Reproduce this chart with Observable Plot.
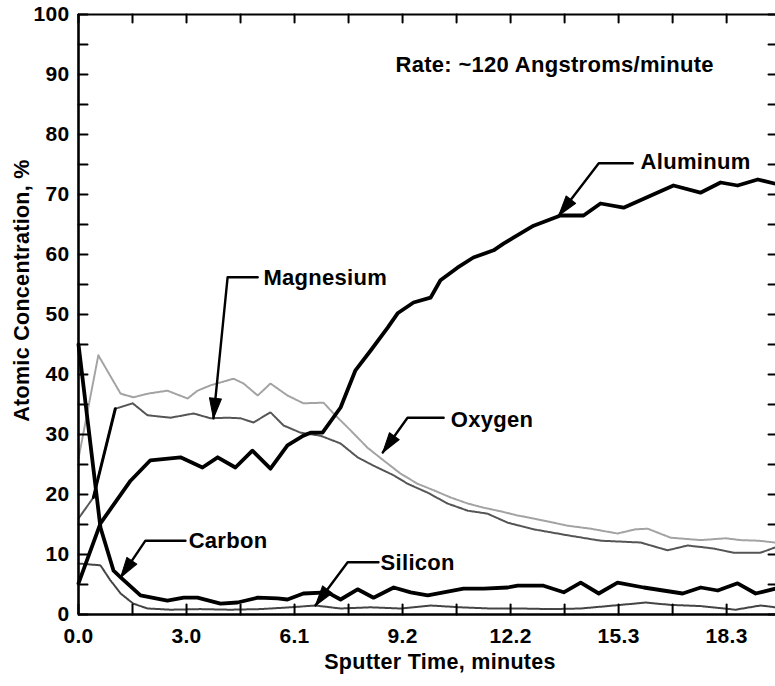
<!DOCTYPE html>
<html><head><meta charset="utf-8">
<script src="https://cdn.jsdelivr.net/npm/d3@7"></script>
<script src="https://cdn.jsdelivr.net/npm/@observablehq/plot@0.6"></script>
<style>
html,body{margin:0;padding:0;background:#fff;}
#chart svg{display:block;}
#chart svg text{letter-spacing:0.3px;}
</style></head><body><div id="chart"></div>
<script>
// ---- data ----
const aluminumTime  = [0,0.62,1.47,2.03,2.88,3.50,3.93,4.43,4.91,5.42,5.90,6.35,6.55,6.89,7.40,7.82,8.25,8.73,9.01,9.46,9.94,10.22,10.70,11.15,11.72,12.00,12.28,12.85,13.61,14.26,14.74,15.39,16.15,16.80,17.56,18.13,18.61,19.18,19.68];
const aluminumValue = [5.2,15.2,22.3,25.7,26.2,24.5,26.2,24.5,27.3,24.3,28.2,29.8,30.3,30.3,34.5,40.7,44,47.8,50.2,52,52.8,55.7,57.8,59.5,60.7,61.8,62.8,64.8,66.5,66.5,68.5,67.8,69.8,71.5,70.3,72,71.5,72.5,71.8];

const carbonTime  = [0,0.62,0.99,1.19,1.75,2.51,2.97,3.36,4.01,4.49,5.06,5.62,5.90,6.35,7.03,7.40,7.88,8.33,8.90,9.38,9.86,10.31,10.87,11.44,12.12,12.40,13.13,13.70,14.18,14.69,15.22,15.96,17.06,17.57,18.05,18.61,19.12,19.68];
const carbonValue = [45,14.5,7.3,6.2,3.2,2.3,2.8,2.8,1.8,2.0,2.8,2.7,2.5,3.5,3.7,2.5,4.2,2.8,4.5,3.7,3.2,3.7,4.3,4.3,4.5,4.8,4.8,3.7,5.3,3.5,5.3,4.5,3.5,4.5,4.0,5.2,3.5,4.3];

const oxygenTime  = [0,0.56,1.19,1.55,1.95,2.51,3.08,3.36,3.73,4.38,4.66,5.06,5.42,5.90,6.35,6.92,7.20,7.68,8.16,8.61,9.09,9.57,10.03,10.51,10.99,11.44,11.92,12.40,12.85,13.81,14.46,15.22,15.73,16.07,16.72,17.57,18.27,18.70,19.18,19.68];
const oxygenValue = [26,43.2,36.8,36.2,36.8,37.3,36.0,37.3,38.2,39.3,38.5,36.5,38.5,36.5,35.2,35.3,33.5,30.7,27.8,25.7,23.5,21.8,20.7,19.5,18.5,17.8,17.2,16.5,16.0,14.8,14.3,13.5,14.2,14.3,12.8,12.4,12.7,12.4,12.3,12.0];

const magnesiumTime  = [0,0.42,1.04,1.53,1.95,2.60,3.25,3.73,4.21,4.58,4.94,5.42,5.79,6.27,6.83,7.40,7.88,8.33,8.90,9.29,9.86,10.42,10.99,11.55,12.12,12.85,13.81,14.74,15.87,16.63,17.20,17.93,18.50,19.26,19.68];
const magnesiumValue = [16,19.5,34.3,35.2,33.2,32.8,33.5,32.7,32.8,32.7,32.0,33.7,31.5,30.3,29.8,28.5,26.2,24.8,23.2,21.8,20.3,18.5,17.3,16.8,15.3,14.2,13.2,12.3,12.0,10.7,11.5,11.0,10.3,10.3,11.2];

const siliconTime  = [0,0.62,0.90,1.19,1.55,1.95,2.60,3.45,4.29,5.14,5.99,6.69,7.40,8.25,9.09,9.94,10.79,11.64,12.48,13.33,14.18,15.31,16.01,16.72,17.57,18.55,19.26,19.68];
const siliconValue = [8.5,8.2,5.7,3.5,1.8,1.0,0.8,0.9,0.8,0.9,1.2,1.5,1.0,1.2,1.0,1.5,1.2,1.0,1.0,0.9,1.0,1.6,2.0,1.6,1.4,0.8,1.5,1.2];

// axis ticks
const xTickValues  = [0,1.525,3.05,4.575,6.1,7.625,9.15,10.675,12.2,13.725,15.25,16.775,18.3];
const xLabelValues = [0,3.05,6.1,9.15,12.2,15.25,18.3];
const xLabelTexts  = ["0.0","3.0","6.1","9.2","12.2","15.3","18.3"];
const yTickValues  = [0,5,10,15,20,25,30,35,40,45,50,55,60,65,70,75,80,85,90,95,100];
const yLabelValues = [0,10,20,30,40,50,60,70,80,90,100];

// annotations
const annLabel   = ["Magnesium","Aluminum","Oxygen","Carbon","Silicon"];
const annTextT   = [5.22,15.87,10.51,3.11,8.53];
const annTextV   = [56.1,75.4,32.4,12.25,8.6];
const annLineEndT= [5.06,15.65,10.31,3.02,8.47];
const annElbowT  = [4.21,14.69,9.29,1.89,7.60];
const annElbowV  = [56.2,75.2,32.8,12.3,8.7];
const annTipT    = [3.81,13.56,8.59,1.19,6.69];
const annTipV    = [32.7,66.5,27.0,6.2,1.5];

const rateText = "Rate: ~120 Angstroms/minute";
const rateT = 8.95, rateV = 91.6;

const xTitle = "Sputter Time, minutes";
const yTitle = "Atomic Concentration, %";

// ---- build tables ----
function rows(name, ts, vs){ return ts.map((t,i)=>({series:name, t, v:vs[i]})); }
const aluminum  = rows("Aluminum", aluminumTime, aluminumValue);
const carbon    = rows("Carbon", carbonTime, carbonValue);
const oxygen    = rows("Oxygen", oxygenTime, oxygenValue);
const magnesium = rows("Magnesium", magnesiumTime, magnesiumValue);
const silicon   = rows("Silicon", siliconTime, siliconValue);
const magnesiumSteep = magnesium.filter(d => d.t >= 0.42 && d.t <= 1.04);

const W = 775, H = 686, mL = 78, mR = 0, mT = 14, mB = 72;
const xMax = 19.68;
const xs = Plot.scale({x:{domain:[0,xMax], range:[mL, W-mR]}});
const ys = Plot.scale({y:{domain:[0,100], range:[H-mB, mT]}});

const anns = annLabel.map((label,i)=>{
  const dx = xs.apply(annTipT[i]) - xs.apply(annElbowT[i]);
  const dy = ys.apply(annTipV[i]) - ys.apply(annElbowV[i]);
  return {label, tt:annTextT[i], tv:annTextV[i], et:annElbowT[i], ev:annElbowV[i],
          lt:annLineEndT[i], pt:annTipT[i], pv:annTipV[i],
          angle: Math.atan2(dx, -dy) * 180 / Math.PI};
});
const leaders = anns.flatMap(a => [
  {label:a.label, t:a.lt, v:a.ev},
  {label:a.label, t:a.et, v:a.ev},
  {label:a.label, t:a.pt, v:a.pv}
]);

const lineShape = {draw(ctx, l){ ctx.moveTo(0,0); ctx.lineTo(0,-l); }};
const headShape = {draw(ctx, l){ const w = 6; ctx.moveTo(-w,0); ctx.lineTo(0,-l); ctx.lineTo(w,0); ctx.closePath(); }};

const font = "'Liberation Sans', Arial, Helvetica, sans-serif";

const chart = Plot.plot({
  width: W, height: H,
  marginLeft: mL, marginRight: mR, marginTop: mT, marginBottom: mB,
  x: {domain:[0,xMax], axis:null},
  y: {domain:[0,100], axis:null},
  style: {fontFamily: font, fontWeight: "bold", background: "#fff", color: "#000"},
  marks: [
    // data lines
    Plot.line(oxygen, {x:"t", y:"v", stroke:"#a3a3a3", strokeWidth:2, strokeDasharray:"1.5,1"}),
    Plot.line(magnesium, {x:"t", y:"v", stroke:"#555", strokeWidth:2, strokeDasharray:"1.5,1"}),
    Plot.line(magnesiumSteep, {x:"t", y:"v", stroke:"#000", strokeWidth:3}),
    Plot.line(silicon, {x:"t", y:"v", stroke:"#444", strokeWidth:2, strokeDasharray:"1.5,1"}),
    Plot.line(carbon, {x:"t", y:"v", stroke:"#000", strokeWidth:3.8, strokeLinejoin:"round"}),
    Plot.line(aluminum, {x:"t", y:"v", stroke:"#000", strokeWidth:3.8, strokeLinejoin:"round"}),
    // frame
    Plot.ruleX([0], {stroke:"#000", strokeWidth:2.6}),
    Plot.ruleY([0], {stroke:"#000", strokeWidth:2.6}),
    Plot.ruleY([100], {stroke:"#000", strokeWidth:2}),
    // inward ticks
    Plot.vector(yTickValues, {x:0, y:d=>d, length:9, rotate:90, anchor:"start", shape:lineShape, stroke:"#000", strokeWidth:2}),
    Plot.vector(yTickValues, {x:xMax, y:d=>d, length:7, rotate:-90, anchor:"start", shape:lineShape, stroke:"#000", strokeWidth:2}),
    Plot.vector(xTickValues, {x:d=>d, y:100, length:8, rotate:180, anchor:"start", shape:lineShape, stroke:"#000", strokeWidth:2}),
    Plot.vector(xTickValues, {x:d=>d, y:0, length:10, rotate:0, anchor:"start", shape:lineShape, stroke:"#000", strokeWidth:2}),
    // tick labels
    Plot.text(yLabelValues, {x:0, y:d=>d, text:d=>String(d), textAnchor:"end", lineAnchor:"middle", dx:-9, fontSize:21, fontWeight:"bold", fill:"#000"}),
    Plot.text(xLabelValues, {x:d=>d, y:0, text:(d,i)=>xLabelTexts[i], textAnchor:"middle", lineAnchor:"middle", dy:22, fontSize:21, fontWeight:"bold", fill:"#000"}),
    // axis titles
    Plot.text([xTitle], {frameAnchor:"bottom", text:d=>d, dx:13, dy:48, lineAnchor:"middle", fontSize:21.5, fontWeight:"bold", fill:"#000"}),
    Plot.text([yTitle], {frameAnchor:"left", text:d=>d, dx:-56, dy:-24, rotate:-90, lineAnchor:"middle", textAnchor:"middle", fontSize:21.5, fontWeight:"bold", fill:"#000"}),
    // rate note
    Plot.text([rateText], {x:rateT, y:rateV, text:d=>d, textAnchor:"start", lineAnchor:"middle", fontSize:22, fontWeight:"bold", fill:"#000"}),
    // annotations
    Plot.line(leaders, {x:"t", y:"v", z:"label", stroke:"#000", strokeWidth:2.4}),
    Plot.vector(anns, {x:"pt", y:"pv", rotate:"angle", length:20, anchor:"end", shape:headShape, fill:"#000", stroke:"#000", strokeWidth:1}),
    Plot.text(anns, {x:"tt", y:"tv", text:"label", textAnchor:"start", lineAnchor:"middle", fontSize:22, fontWeight:"bold", fill:"#000"})
  ]
});
document.getElementById("chart").appendChild(chart);
</script>
</body></html>
